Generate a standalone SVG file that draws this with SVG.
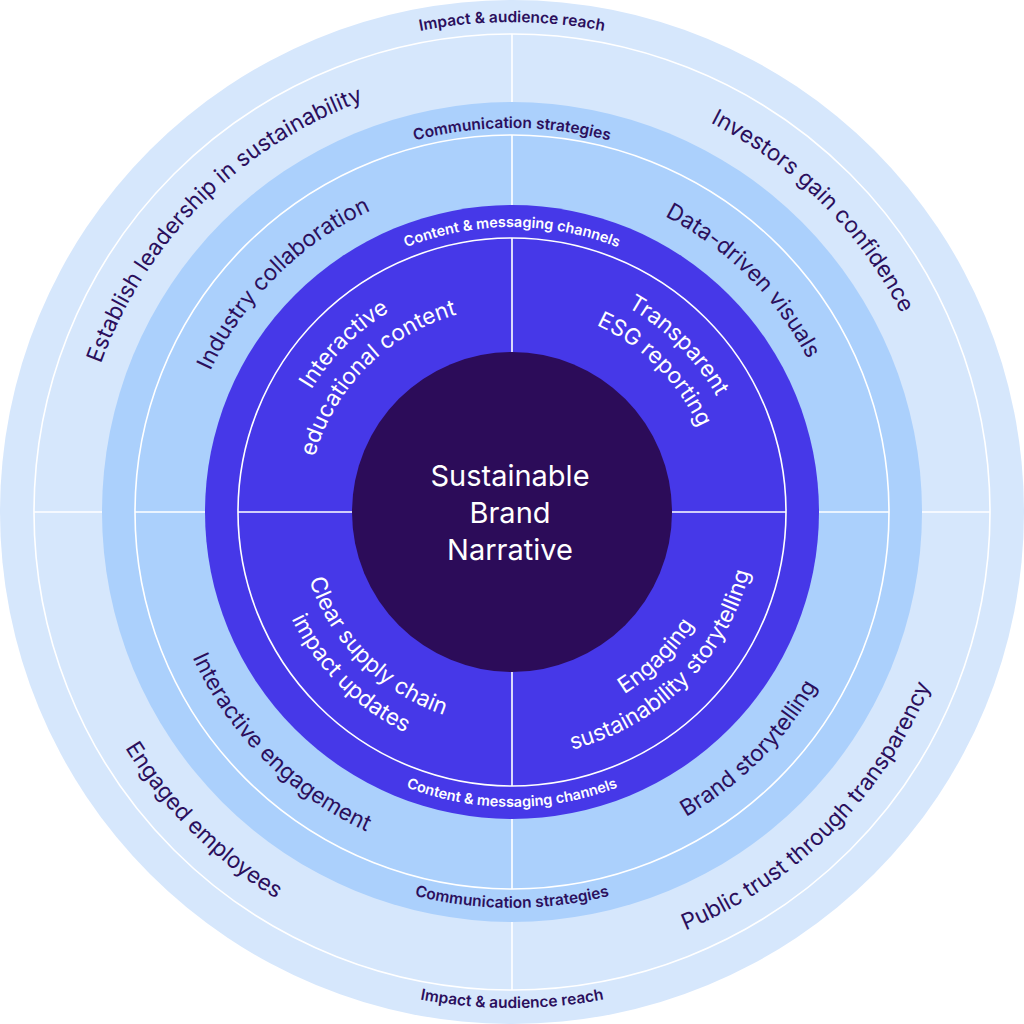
<svg xmlns="http://www.w3.org/2000/svg" xmlns:xlink="http://www.w3.org/1999/xlink" width="1024" height="1024" viewBox="0 0 1024 1024">
<style>
.t{font-family:Inter,"Noto Sans",sans-serif;}
.band{font-size:15.5px;font-weight:600;fill:#2b0f5c;}
.bandw{font-size:14.5px;font-weight:600;fill:#ffffff;}
.q{font-size:22.5px;fill:#2b0f5c;}
.qw{font-size:22.5px;fill:#ffffff;}
.ln{stroke:#ffffff;stroke-width:1.6;fill:none;}
</style>
<defs>
<path id="b1t" d="M22,512 A490,490 0 0 1 1002,512"/>
<path id="b1b" d="M16,512 A496,496 0 0 0 1008,512"/>
<path id="b2t" d="M128,512 A384,384 0 0 1 896,512"/>
<path id="b2b" d="M116,512 A396,396 0 0 0 908,512"/>
<path id="b3t" d="M227,512 A285,285 0 0 1 797,512"/>
<path id="b3b" d="M217,512 A295,295 0 0 0 807,512"/>
<path id="o1" d="M75,512 A437,437 0 0 1 512,75"/>
<path id="o2" d="M75,512 A437,437 0 0 1 949,512"/>
<path id="o3" d="M59,512 A453,453 0 0 0 512,965"/>
<path id="o4" d="M512,965 A453,453 0 0 0 965,512"/>
<path id="m1" d="M179,512 A333,333 0 0 1 512,179"/>
<path id="m2" d="M512,179 A333,333 0 0 1 845,512"/>
<path id="m3" d="M161,512 A351,351 0 0 0 512,863"/>
<path id="m4" d="M512,863 A351,351 0 0 0 863,512"/>
<path id="i1a" d="M277,512 A235,235 0 0 1 512,277"/>
<path id="i1b" d="M307,512 A205,205 0 0 1 512,307"/>
<path id="i2a" d="M512,277 A235,235 0 0 1 747,512"/>
<path id="i2b" d="M512,307 A205,205 0 0 1 717,512"/>
<path id="i3a" d="M298,512 A214,214 0 0 0 512,726"/>
<path id="i3b" d="M267,512 A245,245 0 0 0 512,757"/>
<path id="i4a" d="M512,726 A214,214 0 0 0 726,512"/>
<path id="i4b" d="M512,757 A245,245 0 0 0 757,512"/>
</defs>
<rect width="1024" height="1024" fill="#ffffff"/>
<g id="outer-ring">
<circle cx="512" cy="512" r="512" fill="#d6e7fc"/>
<circle class="ln" cx="512" cy="512" r="478"/>
</g>
<g id="middle-ring">
<circle cx="512" cy="512" r="410" fill="#abd0fc"/>
<circle class="ln" cx="512" cy="512" r="377"/>
</g>
<g id="inner-ring">
<circle cx="512" cy="512" r="307" fill="#4638e8"/>
<circle class="ln" cx="512" cy="512" r="274"/>
</g>
<g id="connectors" class="ln">
<path d="M512,34V102M512,922V990M34,512H102M922,512H990"/>
<path d="M512,135V205M512,819V889M135,512H205M819,512H889"/>
<path d="M512,238V352M512,672V786M238,512H352M672,512H786"/>
</g>
<g id="center">
<circle cx="512" cy="512" r="160" fill="#2c0c59"/>
<text class="t" font-size="29" fill="#ffffff" text-anchor="middle"><tspan x="510" y="486">Sustainable</tspan><tspan x="510" y="523">Brand</tspan><tspan x="510" y="560">Narrative</tspan></text>
</g>
<g id="band-labels" class="t" text-anchor="middle">
<text class="band"><textPath href="#b1t" startOffset="50%">Impact &amp; audience reach</textPath></text>
<text class="band"><textPath href="#b1b" startOffset="50%">Impact &amp; audience reach</textPath></text>
<text class="band"><textPath href="#b2t" startOffset="50%">Communication strategies</textPath></text>
<text class="band"><textPath href="#b2b" startOffset="50%">Communication strategies</textPath></text>
<text class="bandw"><textPath href="#b3t" startOffset="50%">Content &amp; messaging channels</textPath></text>
<text class="bandw"><textPath href="#b3b" startOffset="50%">Content &amp; messaging channels</textPath></text>
</g>
<g id="outer-labels" class="t q" text-anchor="middle">
<text><textPath href="#o1" startOffset="50%">Establish leadership in sustainability</textPath></text>
<text><textPath href="#o2" startOffset="75%">Investors gain confidence</textPath></text>
<text><textPath href="#o3" startOffset="50%">Engaged employees</textPath></text>
<text><textPath href="#o4" startOffset="50%">Public trust through transparency</textPath></text>
</g>
<g id="middle-labels" class="t q" text-anchor="middle">
<text><textPath href="#m1" startOffset="50%">Industry collaboration</textPath></text>
<text><textPath href="#m2" startOffset="50%">Data-driven visuals</textPath></text>
<text><textPath href="#m3" startOffset="50%">Interactive engagement</textPath></text>
<text><textPath href="#m4" startOffset="50%">Brand storytelling</textPath></text>
</g>
<g id="inner-labels" class="t qw" text-anchor="middle">
<text><textPath href="#i1a" startOffset="50%">Interactive</textPath></text>
<text><textPath href="#i1b" startOffset="50%">educational content</textPath></text>
<text><textPath href="#i2a" startOffset="50%">Transparent</textPath></text>
<text><textPath href="#i2b" startOffset="50%">ESG reporting</textPath></text>
<text><textPath href="#i3a" startOffset="50%">Clear supply chain</textPath></text>
<text><textPath href="#i3b" startOffset="50%">impact updates</textPath></text>
<text><textPath href="#i4a" startOffset="50%">Engaging</textPath></text>
<text><textPath href="#i4b" startOffset="50%">sustainability storytelling</textPath></text>
</g>
</svg>
